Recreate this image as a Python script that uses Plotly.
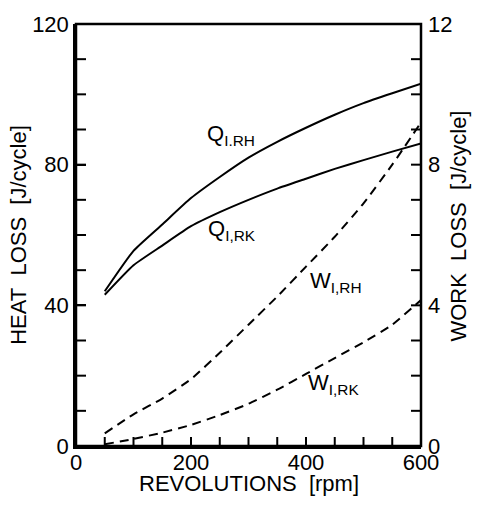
import plotly.graph_objects as go

rpm = [50, 100, 150, 200, 250, 300, 350, 400, 450, 500, 550, 600]
q_rh = [44, 55.5, 63, 70.5, 76.5, 82, 86.5, 90.5, 94.2, 97.5, 100.3, 103]
q_rk = [43, 51.4, 57, 62.5, 66.5, 70, 73.2, 76, 78.8, 81.3, 83.7, 86]
w_rh = [0.36, 0.9, 1.35, 1.9, 2.65, 3.45, 4.25, 5.1, 5.95, 6.9, 8.0, 9.2]
w_rk = [0.05, 0.2, 0.38, 0.6, 0.88, 1.2, 1.6, 2.05, 2.5, 2.95, 3.45, 4.15]

y2_tick_labels = [0, 4, 8, 12]
x_minor = list(range(0, 601, 50))
y_minor = list(range(0, 121, 10))
WORK_SCALE = 10  # right axis (0-12) shares the left axis (0-120) frame

FONT = "Liberation Sans, Arial, sans-serif"
fig = go.Figure()
solid = dict(color="black", width=2, shape="spline", smoothing=0.5)
dashed = dict(color="black", width=2, dash="9px,6px", shape="spline", smoothing=0.5)
fig.add_trace(go.Scatter(x=rpm, y=q_rh, mode="lines", line=solid))
fig.add_trace(go.Scatter(x=rpm, y=q_rk, mode="lines", line=solid))
fig.add_trace(go.Scatter(x=rpm, y=[v * WORK_SCALE for v in w_rh], mode="lines", line=dashed))
fig.add_trace(go.Scatter(x=rpm, y=[v * WORK_SCALE for v in w_rk], mode="lines", line=dashed))

labels = [
    ("Q<sub>I.RH</sub>", 270, 88.5),
    ("Q<sub>I,RK</sub>", 272, 61.4),
    ("W<sub>I,RH</sub>", 453, 46.5),
    ("W<sub>I,RK</sub>", 447, 17.5),
]
for txt, xv, yv in labels:
    fig.add_annotation(text=txt, x=xv, y=yv, xref="x", yref="y", showarrow=False,
                       font=dict(size=22, color="black", family=FONT))

tick_font = dict(size=22, color="black", family=FONT)
title_font = dict(size=22, family=FONT, color="black")

for v in y2_tick_labels:
    fig.add_annotation(text=str(v), x=1, xref="paper", y=v * WORK_SCALE, yref="y",
                       xanchor="left", xshift=5, showarrow=False, font=tick_font)
fig.add_annotation(text="WORK&nbsp;&nbsp;LOSS&nbsp;&nbsp;[J/cycle]", x=1, xref="paper",
                   y=0.52, yref="paper", xanchor="center", yanchor="middle", xshift=38,
                   textangle=-90, showarrow=False, font=title_font)
fig.add_annotation(text="REVOLUTIONS&nbsp;&nbsp;[rpm]", x=0.5, xref="paper", y=0, yref="paper",
                   yshift=-37, yanchor="middle", showarrow=False, font=title_font)

# frame and inward ticks
frame = dict(color="black", width=2.5)
tick_line = dict(color="black", width=2)
fig.add_shape(type="rect", xref="paper", yref="paper", x0=0, x1=1, y0=0, y1=1, line=frame)
for v in x_minor:
    fig.add_shape(type="line", xref="x", yref="paper", x0=v, x1=v, ysizemode="pixel",
                  yanchor=0, y0=0, y1=9, line=tick_line)
for v in y_minor:
    fig.add_shape(type="line", yref="y", xref="paper", y0=v, y1=v, xsizemode="pixel",
                  xanchor=0, x0=0, x1=10, line=tick_line)
    fig.add_shape(type="line", yref="y", xref="paper", y0=v, y1=v, xsizemode="pixel",
                  xanchor=1, x0=-10, x1=0, line=tick_line)

fig.update_layout(
    width=480, height=505, margin=dict(l=76, r=59, t=16, b=59),
    paper_bgcolor="white", plot_bgcolor="white", showlegend=False,
    font=dict(family=FONT, color="black"),
    xaxis=dict(range=[0, 600], dtick=200, tick0=0, showline=True, linewidth=2.5,
               linecolor="black", ticks="inside", ticklen=9, tickcolor="black", tickwidth=2,
               tickfont=tick_font, ticklabelstandoff=-5),
    yaxis=dict(range=[0, 120], dtick=40, tick0=0, showline=True, linewidth=2.5,
               linecolor="black", ticks="inside", ticklen=10, tickcolor="black", tickwidth=2,
               tickfont=tick_font,
               title=dict(text="HEAT&nbsp;&nbsp;LOSS&nbsp;&nbsp;[J/cycle]", font=title_font, standoff=0)),
)
fig.write_html("out.html")
